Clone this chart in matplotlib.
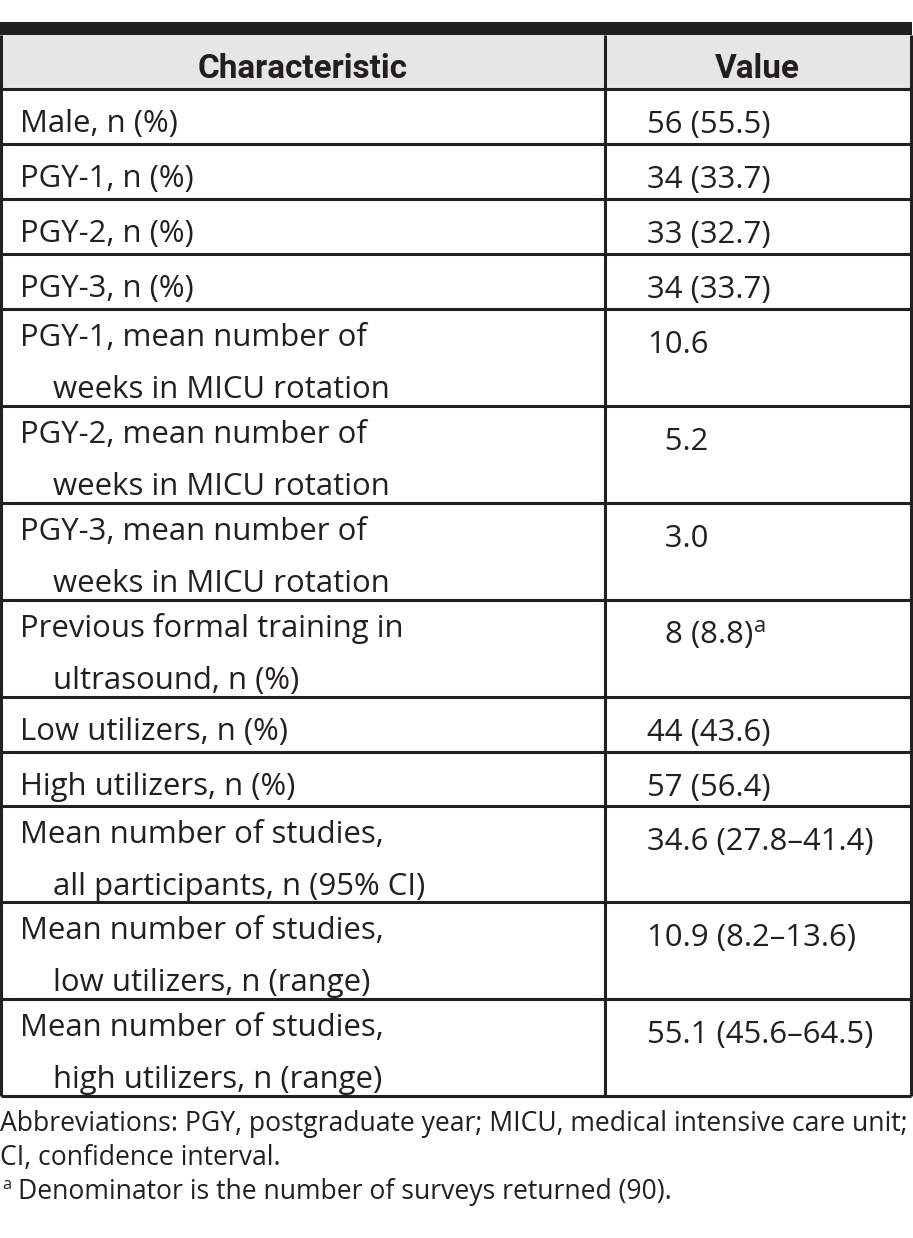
import matplotlib
matplotlib.use("Agg")
import matplotlib.pyplot as plt
from matplotlib import font_manager as fm
from matplotlib.patches import Rectangle

# ---------------- data ----------------
header = ["Characteristic", "Value"]
characteristics = [
    ["Male, n (%)"],
    ["PGY-1, n (%)"],
    ["PGY-2, n (%)"],
    ["PGY-3, n (%)"],
    ["PGY-1, mean number of", "weeks in MICU rotation"],
    ["PGY-2, mean number of", "weeks in MICU rotation"],
    ["PGY-3, mean number of", "weeks in MICU rotation"],
    ["Previous formal training in", "ultrasound, n (%)"],
    ["Low utilizers, n (%)"],
    ["High utilizers, n (%)"],
    ["Mean number of studies,", "all participants, n (95% CI)"],
    ["Mean number of studies,", "low utilizers, n (range)"],
    ["Mean number of studies,", "high utilizers, n (range)"],
]
values = [
    "56 (55.5)", "34 (33.7)", "33 (32.7)", "34 (33.7)",
    "10.6", "\u20075.2", "\u20073.0", "\u20078 (8.8)$^{\\mathregular{a}}$",
    "44 (43.6)", "57 (56.4)",
    "34.6 (27.8\u201341.4)", "10.9 (8.2\u201313.6)", "55.1 (45.6\u201364.5)",
]
footnotes = [
    "Abbreviations: PGY, postgraduate year; MICU, medical intensive care unit;",
    "CI, confidence interval.",
    "Denominator is the number of surveys returned (90).",
]

# ---------------- layout ----------------
W, H = 913, 1238
avail = {f.name for f in fm.fontManager.ttflist}
body_font = ["Open Sans", "DejaVu Sans"]
if "Liberation Sans Narrow" in avail:
    head_font = ["Liberation Sans Narrow", "Open Sans", "DejaVu Sans"]
elif "Roboto" in avail:
    head_font = ["Roboto", "Open Sans", "DejaVu Sans"]
else:
    head_font = ["Open Sans", "DejaVu Sans"]

fig = plt.figure(figsize=(W / 100, H / 100), dpi=100)
ax = fig.add_axes([0, 0, 1, 1])
ax.set_xlim(0, W)
ax.set_ylim(H, 0)
ax.axis("off")
renderer = fig.canvas.get_renderer()

def fit_size(text, target_w, family, weight="normal", base=20):
    t = ax.text(0, 0, text, fontsize=base, family=family, weight=weight)
    w = t.get_window_extent(renderer).width
    t.remove()
    return base * target_w / w

body_fs = fit_size("PGY-1, mean number of", 346, body_font)
head_fs = fit_size("Characteristic", 210, head_font, "bold")
foot_fs = fit_size(footnotes[0], 905, body_font)

ink = "#231f20"
x0, xdiv, x1 = 1, 605, 911
bar_top, bar_bot = 22, 35
row_lines = [89, 144, 199, 254, 309, 406, 503, 600, 697, 752, 806, 902, 999, 1096]

# header background and top bar
ax.add_patch(Rectangle((x0, bar_bot), x1 - x0, row_lines[0] - bar_bot, facecolor="#e6e6e6", edgecolor="none"))
ax.add_patch(Rectangle((x0 - 1, bar_top), x1 - x0 + 2, bar_bot - bar_top, facecolor=ink, edgecolor="none"))

# grid lines
for y in row_lines:
    ax.plot([x0, x1], [y, y], color=ink, lw=2.2, solid_capstyle="butt")
for x in (x0, xdiv, x1):
    ax.plot([x, x], [bar_bot, row_lines[-1]], color=ink, lw=2.2, solid_capstyle="butt")

# header text
ax.text(303, 78, header[0], fontsize=head_fs, family=head_font, weight="bold",
        ha="center", va="baseline", color=ink)
ax.text(757, 78, header[1], fontsize=head_fs, family=head_font, weight="bold",
        ha="center", va="baseline", color=ink)

# body rows
for i, (lines, val) in enumerate(zip(characteristics, values)):
    top = row_lines[i]
    if len(lines) == 1:
        ax.text(20, top + 43, lines[0], fontsize=body_fs, family=body_font, va="baseline", color=ink)
    else:
        ax.text(20, top + 37, lines[0], fontsize=body_fs, family=body_font, va="baseline", color=ink)
        ax.text(53, top + 89, lines[1], fontsize=body_fs, family=body_font, va="baseline", color=ink)
    ax.text(647, top + 44, val, fontsize=body_fs, family=body_font, va="baseline", color=ink)

# footnotes
ax.text(0, 1131, footnotes[0], fontsize=foot_fs, family=body_font, va="baseline", color=ink)
ax.text(0, 1165, footnotes[1], fontsize=foot_fs, family=body_font, va="baseline", color=ink)
ax.text(2, 1189, "a", fontsize=foot_fs * 0.62, family=body_font, va="baseline", color=ink)
ax.text(18, 1199, footnotes[2], fontsize=foot_fs, family=body_font, va="baseline", color=ink)

fig.savefig("out.png", dpi=100, facecolor="white")
